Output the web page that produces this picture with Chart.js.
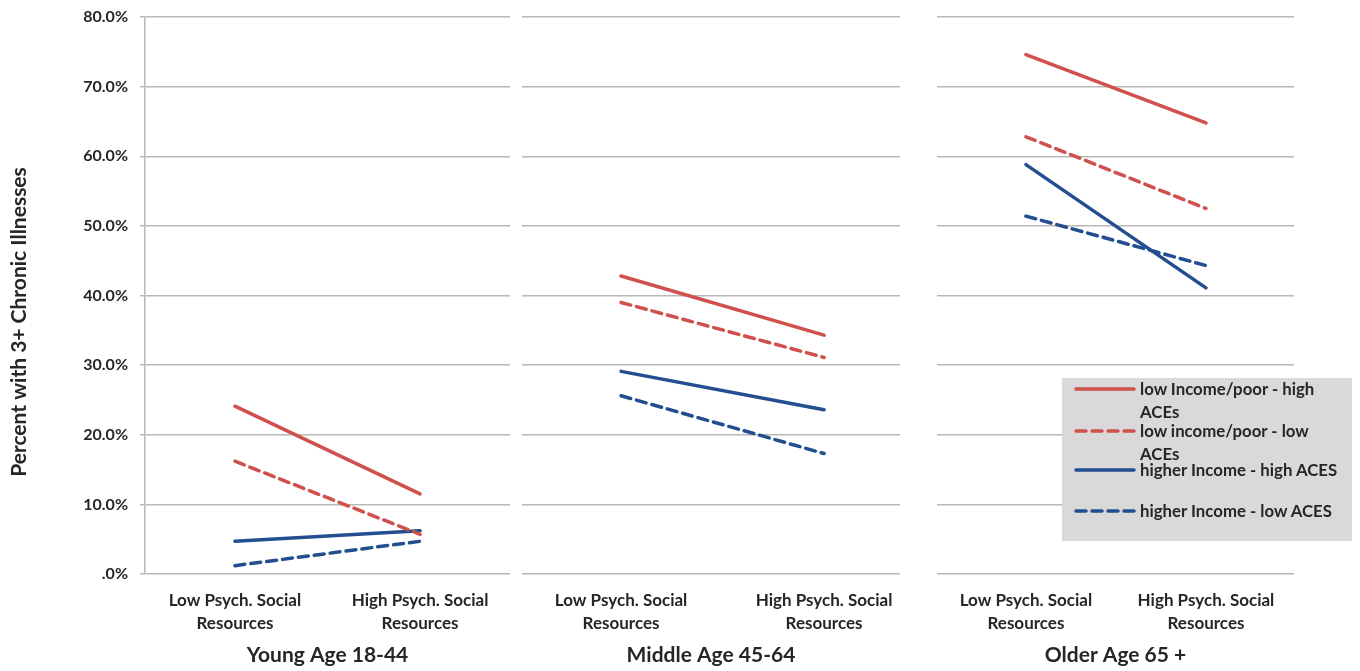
<!DOCTYPE html>
<html>
<head>
<meta charset="utf-8">
<script src="https://cdn.jsdelivr.net/npm/chart.js@4.4.0/dist/chart.umd.min.js"></script>
<style>
  body { margin: 0; background: #fff; width: 1360px; height: 671px; position: relative; overflow: hidden; font-family: Lato, "Open Sans", sans-serif; }
  .panel { position: absolute; top: 0; height: 671px; }
  #legend { position: absolute; left: 1062px; top: 378px; width: 290px; height: 163px; background: #d9d9d9; }
  .row { position: absolute; left: 0; width: 290px; }
  .row svg { position: absolute; left: 12px; top: 4px; }
  .row span { position: absolute; left: 78px; width: 206px; font-weight: bold; font-size: 16.8px; line-height: 23px; color: #262626; }
</style>
</head>
<body>
<div class="panel" style="left:0;width:515px"><canvas id="young" width="515" height="671"></canvas></div>
<div class="panel" style="left:515px;width:400px"><canvas id="middle" width="400" height="671"></canvas></div>
<div class="panel" style="left:915px;width:445px"><canvas id="older" width="445" height="671"></canvas></div>
<div id="legend"></div>
<script>
// categories and panel titles
const categories = [["Low Psych. Social", "Resources"], ["High Psych. Social", "Resources"]];
const ageGroups = ["Young Age 18-44", "Middle Age 45-64", "Older Age 65 +"];
const yTicks = [0, 10, 20, 30, 40, 50, 60, 70, 80];
const yTitle = "Percent with 3+ Chronic Illnesses";

// series names
const seriesNames = [
  "low Income/poor - high ACEs",
  "low income/poor - low ACEs",
  "higher Income - high ACES",
  "higher Income - low ACES"
];

// percent with 3+ chronic illnesses, [low, high] per age group
const lowIncomeHighAces = [[24.1, 11.5], [42.8, 34.3], [74.6, 64.8]];
const lowIncomeLowAces = [[16.2, 5.7], [39.0, 31.1], [62.8, 52.5]];
const higherIncomeHighAces = [[4.7, 6.2], [29.1, 23.6], [58.8, 41.1]];
const higherIncomeLowAces = [[1.2, 4.7], [25.6, 17.3], [51.4, 44.3]];

const seriesData = [lowIncomeHighAces, lowIncomeLowAces, higherIncomeHighAces, higherIncomeLowAces];
const red = "#cf504c";
const blue = "#234e8f";
const seriesColors = [red, red, blue, blue];
const seriesDashed = [false, true, false, true];

const textColor = "#262626";
const gridColor = "#b8b8b8";
const fontFamily = "Lato, 'Open Sans', sans-serif";

const panels = [
  { id: "young", idx: 0, yWidth: 145, padRight: 5, xMin: -0.486, xMax: 1.486, showY: true },
  { id: "middle", idx: 1, yWidth: 7, padRight: 15, xMin: -0.488, xMax: 1.374, showY: false },
  { id: "older", idx: 2, yWidth: 22, padRight: 66, xMin: -0.494, xMax: 1.489, showY: false }
];

// y title sits a bit below the plot centre in the original, so draw it by hand
const yTitlePlugin = {
  id: "yTitle",
  afterDraw(chart) {
    if (chart.canvas.id !== "young") return;
    const ctx = chart.ctx;
    ctx.save();
    ctx.translate(19.5, 322);
    ctx.rotate(-Math.PI / 2);
    ctx.fillStyle = textColor;
    ctx.font = "bold 21px " + fontFamily;
    ctx.textAlign = "center";
    ctx.textBaseline = "middle";
    ctx.fillText(yTitle, 0, 0);
    ctx.restore();
  }
};

function makePanel(p) {
  const datasets = seriesData.map((s, i) => ({
    label: seriesNames[i],
    data: s[p.idx].map((v, j) => ({ x: j, y: v })),
    borderColor: seriesColors[i],
    borderWidth: 3.5,
    borderDash: seriesDashed[i] ? [10, 6] : [],
    borderCapStyle: "round",
    pointRadius: 0,
    tension: 0
  }));

  new Chart(document.getElementById(p.id), {
    type: "line",
    data: { datasets },
    plugins: [yTitlePlugin],
    options: {
      responsive: false,
      animation: false,
      layout: { padding: { top: 17, right: p.padRight, bottom: 0, left: 0 } },
      plugins: { legend: { display: false }, tooltip: { enabled: false } },
      scales: {
        x: {
          type: "linear",
          min: p.xMin,
          max: p.xMax,
          afterBuildTicks: (ax) => { ax.ticks = categories.map((c, j) => ({ value: j })); },
          afterFit: (ax) => { ax.height = 97; },
          grid: { display: false },
          border: { display: false },
          ticks: {
            callback: (v) => categories[v],
            color: textColor,
            font: { family: fontFamily, size: 17, weight: "bold", lineHeight: 1.35 },
            padding: 7,
            maxRotation: 0,
            autoSkip: false
          },
          title: {
            display: true,
            text: ageGroups[p.idx],
            color: textColor,
            font: { family: fontFamily, size: 21, weight: "bold" },
            padding: { top: 0, bottom: 3 }
          }
        },
        y: {
          min: 0,
          max: 80,
          afterBuildTicks: (ax) => { ax.ticks = yTicks.map((v) => ({ value: v })); },
          afterFit: (ax) => {
            ax.width = p.yWidth;
            ax.paddingTop = 9;
            ax.paddingBottom = 9;
          },
          grid: { color: gridColor, lineWidth: 1.5, drawTicks: p.showY, tickLength: 5 },
          border: { display: p.showY, color: gridColor, width: 1.5 },
          ticks: {
            display: p.showY,
            callback: (v) => (v === 0 ? ".0%" : v.toFixed(1) + "%"),
            color: textColor,
            font: { family: fontFamily, size: 16, weight: "bold" },
            padding: 12
          }
        }
      }
    }
  });
}

panels.forEach(makePanel);

// legend box
const legendRowTops = [-1, 41, 80, 121];
const legend = document.getElementById("legend");
seriesNames.forEach((name, i) => {
  const row = document.createElement("div");
  row.className = "row";
  row.style.top = legendRowTops[i] + "px";
  const dash = seriesDashed[i] ? 'stroke-dasharray="10 6"' : "";
  row.innerHTML =
    '<svg width="62" height="16"><line x1="2" y1="8" x2="60" y2="8" stroke="' + seriesColors[i] +
    '" stroke-width="3.5" stroke-linecap="round" ' + dash + '/></svg><span>' + name + "</span>";
  legend.appendChild(row);
});
</script>
</body>
</html>
